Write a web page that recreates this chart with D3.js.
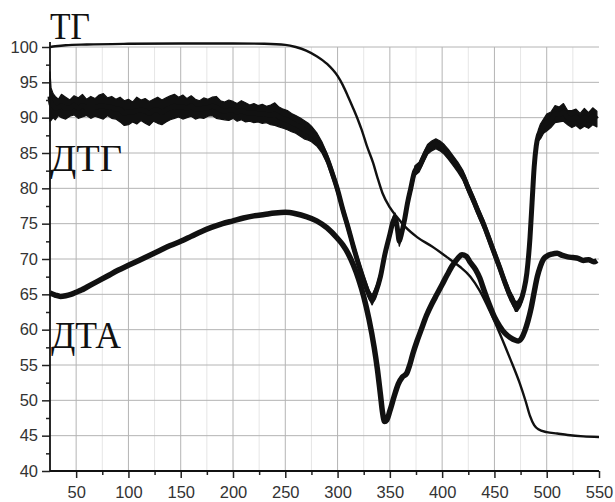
<!DOCTYPE html>
<html>
<head>
<meta charset="utf-8">
<script src="https://d3js.org/d3.v7.min.js"></script>
<style>
  body { margin: 0; background: #fff; }
  .tick text { font-family: "Liberation Sans", Arial, sans-serif; font-size: 16.5px; fill: #333; }
  .curve-label { font-family: "Liberation Serif", "Times New Roman", serif; font-size: 38px; fill: #111; }
</style>
</head>
<body>
<div id="chart"></div>
<script>
// Data (temperature, signal)
var xMajorTicks = [50, 100, 150, 200, 250, 300, 350, 400, 450, 500, 550];
var xMinorTicks = [75, 125, 175, 225, 275, 325, 375, 425, 475, 525];
var yMajorTicks = [40, 45, 50, 55, 60, 65, 70, 75, 80, 85, 90, 95, 100];
var yMinorTicks = [42.5, 47.5, 52.5, 57.5, 62.5, 67.5, 72.5, 77.5, 82.5, 87.5, 92.5, 97.5];

var curveLabels = ["ТГ", "ДТГ", "ДТА"];

// ТГ
var tgX = [25, 30, 40, 60, 100, 150, 200, 230, 250, 260, 270, 280, 290, 300, 305, 310, 315, 320, 323, 328, 334, 338, 343, 350, 357, 365, 376, 390, 407, 417, 427, 436, 446, 455, 465, 474, 480, 484, 488, 492, 500, 510, 520, 535, 550];
var tgY = [100.0, 100.1, 100.25, 100.35, 100.45, 100.5, 100.5, 100.45, 100.3, 100.0, 99.5, 98.7, 97.6, 95.9, 94.6, 93.0, 91.3, 89.5, 88.3, 86.0, 83.6, 81.6, 79.3, 77.3, 75.9, 74.5, 73.1, 71.8, 70.0, 68.9, 67.5, 65.5, 62.5, 59.5, 55.9, 52.5, 49.8, 47.8, 46.5, 45.9, 45.5, 45.3, 45.1, 44.9, 44.8];

// ДТА
var dtaX = [25, 30, 35, 40, 45, 50, 55, 60, 70, 80, 90, 100, 110, 120, 130, 140, 150, 160, 170, 180, 190, 200, 210, 220, 230, 240, 250, 260, 270, 280, 290, 300, 305, 310, 315, 320, 325, 330, 335, 338, 341, 343, 345, 347, 350, 354, 358, 362, 366, 369, 372, 376, 380, 385, 390, 395, 400, 405, 410, 415, 419, 423, 427, 432, 436, 440, 445, 450, 455, 460, 465, 470, 473, 476, 479, 482, 485, 488, 491, 494, 497, 500, 505, 510, 515, 520, 525, 530, 535, 540, 545, 548];
var dtaY = [65.2, 64.9, 64.7, 64.8, 65.0, 65.3, 65.6, 66.0, 66.8, 67.6, 68.4, 69.1, 69.8, 70.5, 71.2, 71.9, 72.5, 73.2, 73.9, 74.5, 75.0, 75.4, 75.8, 76.1, 76.3, 76.5, 76.6, 76.4, 76.0, 75.4, 74.4, 72.9, 72.0, 70.8, 69.2, 67.2, 64.7, 61.5, 57.5, 54.5, 50.8, 48.3, 47.0, 47.2, 48.5, 50.5, 52.3, 53.3, 53.8, 55.0, 56.6, 58.4, 60.0, 62.0, 63.6, 65.0, 66.4, 67.8, 69.1, 70.1, 70.6, 70.4, 69.5, 68.5, 67.3, 65.6, 63.6, 61.8, 60.5, 59.5, 58.9, 58.5, 58.4, 58.8, 59.8, 61.2, 63.0, 65.3, 67.5, 69.0, 70.0, 70.4, 70.7, 70.8, 70.5, 70.3, 70.2, 70.1, 69.8, 69.9, 69.6, 69.8];

// ДТГ (noisy trace: upper and lower edge of the band)
var dtgX = [25, 26, 28, 30, 33, 36, 40, 44, 48, 52, 56, 60, 64, 68, 72, 76, 80, 84, 88, 92, 96, 100, 104, 108, 112, 116, 120, 124, 128, 132, 136, 140, 144, 148, 152, 156, 160, 164, 168, 172, 176, 180, 184, 188, 192, 196, 200, 204, 208, 212, 216, 220, 224, 228, 232, 236, 240, 244, 248, 252, 256, 260, 264, 268, 272, 275, 280, 285, 290, 295, 300, 305, 310, 315, 320, 325, 330, 333, 337, 341, 345, 350, 353, 355, 357, 359, 361, 364, 367, 370, 374, 378, 382, 386, 390, 394, 398, 402, 406, 410, 415, 420, 425, 430, 435, 440, 445, 450, 455, 460, 465, 468, 470, 472, 475, 478, 481, 484, 486, 488, 490, 492, 494, 497, 500, 504, 508, 512, 516, 520, 524, 528, 532, 536, 540, 544, 548];
var dtgHi = [96.5, 94.2, 93.4, 93.0, 92.6, 93.3, 92.9, 92.5, 93.1, 92.8, 93.3, 92.6, 93.0, 92.7, 93.2, 93.4, 92.8, 93.0, 92.6, 92.9, 92.4, 92.6, 92.2, 92.9, 92.5, 92.7, 92.3, 92.6, 92.9, 92.5, 92.8, 93.1, 93.3, 92.9, 93.2, 92.7, 93.1, 92.6, 92.4, 92.8, 92.6, 92.9, 93.0, 92.4, 92.2, 92.5, 92.3, 92.0, 92.4, 92.1, 91.8, 92.0, 91.7, 91.9, 91.6, 91.8, 92.1, 91.5, 91.2, 91.0, 90.6, 90.3, 90.0, 89.6, 89.2, 88.8, 87.9, 86.6, 84.9, 82.8, 80.5, 77.7, 75.2, 72.5, 70.0, 67.7, 65.6, 64.9, 66.2, 68.2, 71.2, 74.2, 76.0, 76.5, 75.2, 73.2, 74.2, 76.2, 78.7, 80.7, 83.2, 83.7, 85.0, 86.2, 86.7, 87.0, 86.7, 86.2, 85.5, 84.7, 83.7, 82.5, 80.7, 79.0, 77.2, 75.5, 73.5, 71.5, 69.5, 67.4, 65.5, 64.7, 64.0, 64.0, 64.7, 66.2, 68.7, 73.7, 78.7, 83.7, 86.7, 88.3, 89.1, 89.8, 90.5, 90.8, 91.7, 91.5, 92.0, 91.0, 91.0, 91.2, 90.6, 91.3, 90.7, 91.4, 90.9];
var dtgLo = [89.5, 89.6, 90.0, 89.7, 90.3, 90.0, 89.8, 90.2, 90.4, 89.9, 90.1, 90.3, 89.9, 90.2, 90.0, 89.8, 90.3, 89.9, 89.8, 89.4, 88.9, 89.0, 89.4, 89.1, 89.6, 89.2, 88.9, 89.5, 89.2, 89.0, 89.4, 89.7, 89.9, 90.1, 89.8, 90.0, 90.2, 89.8, 90.0, 89.9, 90.2, 90.3, 89.9, 89.8, 89.7, 89.6, 89.9, 89.5, 89.7, 89.4, 89.5, 89.3, 89.4, 89.2, 89.3, 89.0, 88.9, 88.7, 88.5, 88.3, 88.0, 87.8, 87.4, 87.0, 86.8, 86.6, 86.0, 85.0, 83.5, 81.4, 79.1, 76.3, 73.8, 71.1, 68.6, 66.3, 64.4, 63.5, 64.8, 66.8, 69.8, 72.8, 74.6, 75.1, 73.8, 71.8, 72.8, 74.8, 77.3, 79.3, 81.8, 82.3, 83.6, 84.8, 85.3, 85.6, 85.3, 84.8, 84.1, 83.3, 82.3, 81.1, 79.3, 77.6, 75.8, 74.1, 72.1, 70.1, 68.1, 66.0, 64.1, 63.3, 62.6, 62.6, 63.3, 64.8, 67.3, 72.3, 77.3, 82.3, 85.3, 86.7, 87.0, 87.8, 88.1, 88.6, 89.3, 89.4, 89.5, 89.0, 88.6, 88.9, 88.4, 88.8, 88.5, 89.0, 88.7];

var svgWidth = 615;
var svgHeight = 502;

var margin = {
  top: 47,
  right: 16,
  bottom: 31,
  left: 50
};

var width = svgWidth - margin.left - margin.right;
var height = svgHeight - margin.top - margin.bottom;

var svg = d3.select("#chart")
  .append("svg")
  .attr("width", svgWidth)
  .attr("height", svgHeight)
  .style("background", "#fff");

var chartGroup = svg.append("g")
  .attr("transform", `translate(${margin.left}, ${margin.top})`);

// Step 1: scales
var xScale = d3.scaleLinear()
  .domain([25, 550])
  .range([0, width]);

var yScale = d3.scaleLinear()
  .domain([40, 100])
  .range([height, 0]);

// Step 2: grid
chartGroup.append("g")
  .selectAll("line")
  .data(xMinorTicks)
  .enter()
  .append("line")
  .attr("x1", d => xScale(d))
  .attr("x2", d => xScale(d))
  .attr("y1", yScale(40))
  .attr("y2", yScale(100))
  .attr("stroke", "#e6e6e6")
  .attr("stroke-width", 1);

chartGroup.append("g")
  .selectAll("line")
  .data(xMajorTicks.filter(d => d < 550))
  .enter()
  .append("line")
  .attr("x1", d => xScale(d))
  .attr("x2", d => xScale(d))
  .attr("y1", yScale(40))
  .attr("y2", yScale(100))
  .attr("stroke", "#b4b4b4")
  .attr("stroke-width", 1);

chartGroup.append("g")
  .selectAll("line")
  .data(yMajorTicks.filter(d => d > 40))
  .enter()
  .append("line")
  .attr("x1", 0)
  .attr("x2", xScale(550))
  .attr("y1", d => yScale(d))
  .attr("y2", d => yScale(d))
  .attr("stroke", "#b4b4b4")
  .attr("stroke-width", 1);

// Step 3: curves
var tgData = tgX.map((x, i) => ({x: x, y: tgY[i]}));
var dtaData = dtaX.map((x, i) => ({x: x, y: dtaY[i]}));
var dtgData = dtgX.map((x, i) => ({x: x, hi: dtgHi[i], lo: dtgLo[i]}));

var dtgArea = d3.area()
  .x(d => xScale(d.x))
  .y0(d => yScale(d.lo))
  .y1(d => yScale(d.hi));

chartGroup.append("path")
  .datum(dtgData)
  .attr("d", dtgArea)
  .attr("fill", "#111")
  .attr("stroke", "#111")
  .attr("stroke-width", 1.2)
  .attr("stroke-linejoin", "round");

chartGroup.append("path")
  .datum(dtgData)
  .attr("d", d3.line().x(d => xScale(d.x)).y(d => yScale((d.hi + d.lo) / 2)).curve(d3.curveMonotoneX))
  .attr("fill", "none")
  .attr("stroke", "#111")
  .attr("stroke-width", 5)
  .attr("stroke-linejoin", "round");

chartGroup.append("path")
  .datum(dtaData)
  .attr("d", d3.line().x(d => xScale(d.x)).y(d => yScale(d.y)).curve(d3.curveMonotoneX))
  .attr("fill", "none")
  .attr("stroke", "#111")
  .attr("stroke-width", 5.5)
  .attr("stroke-linejoin", "round");

chartGroup.append("path")
  .datum(tgData)
  .attr("d", d3.line().x(d => xScale(d.x)).y(d => yScale(d.y)).curve(d3.curveMonotoneX))
  .attr("fill", "none")
  .attr("stroke", "#111")
  .attr("stroke-width", 2.4);

// Step 4: axes
var bottomAxis = d3.axisBottom(xScale)
  .tickValues(xMajorTicks)
  .tickSize(7)
  .tickPadding(8);

var bottomMinor = d3.axisBottom(xScale)
  .tickValues(xMinorTicks)
  .tickSize(4)
  .tickFormat("");

var leftAxis = d3.axisLeft(yScale)
  .tickValues(yMajorTicks)
  .tickSize(8)
  .tickPadding(4);

var leftMinor = d3.axisLeft(yScale)
  .tickValues(yMinorTicks)
  .tickSize(4)
  .tickFormat("");

[bottomAxis, bottomMinor].forEach(function(ax) {
  chartGroup.append("g")
    .attr("transform", `translate(0, ${height})`)
    .call(ax)
    .call(g => g.select(".domain").remove())
    .call(g => g.selectAll(".tick line").attr("stroke", "#222").attr("stroke-width", 1.5));
});

[leftAxis, leftMinor].forEach(function(ax) {
  chartGroup.append("g")
    .call(ax)
    .call(g => g.select(".domain").remove())
    .call(g => g.selectAll(".tick line").attr("stroke", "#222").attr("stroke-width", 1.5));
});

// axis lines
chartGroup.append("line")
  .attr("x1", 0).attr("x2", 0)
  .attr("y1", yScale(100.7)).attr("y2", yScale(40))
  .attr("stroke", "#111").attr("stroke-width", 1.8);

chartGroup.append("line")
  .attr("x1", 0).attr("x2", xScale(550))
  .attr("y1", yScale(40)).attr("y2", yScale(40))
  .attr("stroke", "#111").attr("stroke-width", 1.8);

// Step 5: curve labels
var labelPos = [
  {x: 25, y: 101.1, w: 40},
  {x: 25, y: 82.4, w: 72},
  {x: 26, y: 57.4, w: 70}
];

svg.selectAll(".curve-label")
  .data(curveLabels)
  .enter()
  .append("text")
  .classed("curve-label", true)
  .attr("x", (d, i) => margin.left + xScale(labelPos[i].x))
  .attr("y", (d, i) => margin.top + yScale(labelPos[i].y))
  .attr("textLength", (d, i) => labelPos[i].w)
  .attr("lengthAdjust", "spacingAndGlyphs")
  .text(d => d);
</script>
</body>
</html>
